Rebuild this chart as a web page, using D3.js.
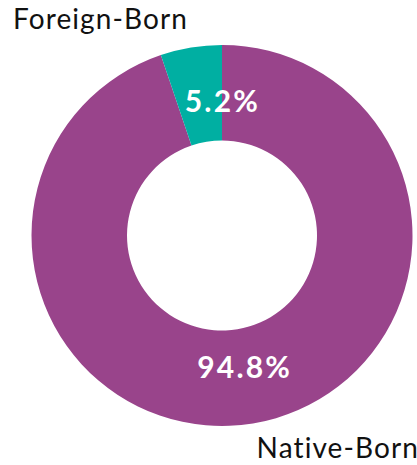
<!DOCTYPE html>
<html>
<head>
<meta charset="utf-8">
<script src="https://cdnjs.cloudflare.com/ajax/libs/d3/7.8.5/d3.min.js"></script>
<style>
  body { margin: 0; background: #fff; }
  svg text { font-family: Lato, "Open Sans", sans-serif; }
</style>
</head>
<body>
<svg id="chart" width="417" height="465"></svg>
<script>
var categories = ["Native-Born", "Foreign-Born"];
var values = [94.8, 5.2];
var colors = ["#99448b", "#00afa2"];

var svg = d3.select("#chart");
var cx = 222, cy = 235.5;
var outerR = 190.5, innerR = 95;

var data = categories.map(function (c, i) {
    return {name: c, value: values[i], color: colors[i]};
});

var pie = d3.pie().sort(null).value(function (d) { return d.value; });
var arc = d3.arc().innerRadius(innerR).outerRadius(outerR);
var labelArc = d3.arc().innerRadius(133).outerRadius(133);

var g = svg.append("g").attr("transform", "translate(" + cx + "," + cy + ")");

var slices = pie(data);

g.selectAll("path")
    .data(slices)
    .enter().append("path")
    .attr("d", arc)
    .attr("fill", function (d) { return d.data.color; });

// percentage labels; the small slice label is nudged toward the top
var nudge = {"Native-Born": [1, 0], "Foreign-Born": [22, -3]};

g.selectAll("text.pct")
    .data(slices)
    .enter().append("text")
    .attr("class", "pct")
    .attr("transform", function (d) {
        var c = labelArc.centroid(d);
        var n = nudge[d.data.name];
        return "translate(" + (c[0] + n[0]) + "," + (c[1] + n[1]) + ")";
    })
    .attr("text-anchor", "middle")
    .attr("dy", "0.36em")
    .style("font-size", "30px")
    .style("font-weight", "700")
    .style("letter-spacing", "2.2px")
    .style("fill", "#fff")
    .text(function (d) { return d3.format(".1f")(d.data.value) + "%"; });

// category titles
svg.append("text")
    .attr("x", 13).attr("y", 29)
    .style("font-size", "28px")
    .style("letter-spacing", "1.1px")
    .style("fill", "#111")
    .text(categories[1]);

svg.append("text")
    .attr("x", 419).attr("y", 458)
    .attr("text-anchor", "end")
    .style("font-size", "28px")
    .style("letter-spacing", "1.1px")
    .style("fill", "#111")
    .text(categories[0]);
</script>
</body>
</html>
